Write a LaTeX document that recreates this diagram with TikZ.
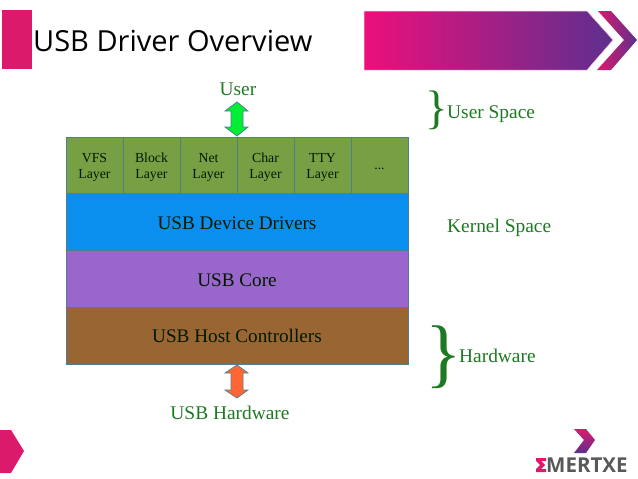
\documentclass[tikz,border=0pt]{standalone}
\usepackage{fontspec}
\setmainfont{Liberation Serif}
\newfontfamily\titlefont{Open Sans}
\definecolor{gtext}{HTML}{1E7A22}
\definecolor{bd}{HTML}{4F7F8F}
\definecolor{pinkA}{HTML}{EC0F7B}
\definecolor{pinkB}{HTML}{DC1A6C}
\definecolor{violet}{HTML}{5E2F8F}
\definecolor{cellgreen}{HTML}{77A045}
\definecolor{blueL}{HTML}{0A8FEF}
\definecolor{purpleL}{HTML}{9966CC}
\definecolor{brownL}{HTML}{996633}
\definecolor{orangeL}{HTML}{FF6633}
\definecolor{greenL}{HTML}{00EE33}
\tikzset{
  x=1pt,y=-1pt,
  layer/.style={draw=bd,line width=0.8pt,minimum height=57pt,inner sep=0pt,anchor=north west,align=center,text=black!90!green},
  cell/.style={layer,fill=cellgreen,minimum width=57pt,font=\fontsize{13.8}{16.5}\selectfont},
  wide/.style={layer,minimum width=342pt,font=\fontsize{19.2}{21}\selectfont},
  lab/.style={text=gtext,inner sep=0pt,font=\fontsize{19.4}{22}\selectfont},
  brace/.style={text=gtext,inner sep=0pt}
}
\begin{document}
\begin{tikzpicture}
\useasboundingbox (0,0) rectangle (638,479);
\fill[white] (0,0) rectangle (638,479);
% decorations
\fill[pinkB] (2,10) rectangle (32,69);
\node[anchor=west,inner sep=0pt,font=\titlefont\fontsize{29}{34}\selectfont] (title) at (33,41) {USB Driver Overview};
\shade[left color=pinkA,right color=violet,draw=pink!70!white,line width=0.5pt]
  (364,11) -- (587,11) -- (613,40) -- (587,70) -- (364,70) -- cycle;
\shade[left color=pinkB,right color=violet]
  (598,11) -- (611,11) -- (637,40) -- (611,70) -- (597,70) -- (624,40) -- cycle;
\fill[pinkB] (0,430) -- (11,430) -- (24,451) -- (11,473) -- (0,473) -- cycle;
% layers
\foreach \n/\t/\i in {vfs/VFS/0,block/Block/1,net/Net/2,char/Char/3,tty/TTY/4}{
  \node[cell] (\n) at (65.6+57*\i,136.6) {\rule{0pt}{12.5pt}\t\\Layer};
}
\node[cell] (more) at (350.6,136.6) {\rule{0pt}{9pt}...};
\node[wide,fill=blueL] (dd) at (65.6,193) {\rule{0pt}{15pt}USB Device Drivers};
\node[wide,fill=purpleL] (core) at (65.6,250) {\rule{0pt}{15pt}USB Core};
\node[wide,fill=brownL] (host) at (65.6,307) {USB Host Controllers};
% arrows
\draw[bd,fill=greenL,line width=0.8pt]
  (237,102) -- (248,111) -- (243,111) -- (243,127) -- (248,127) -- (237,136) -- (225,127) -- (231,127) -- (231,111) -- (225,111) -- cycle;
\draw[bd!60!gray,fill=orangeL,line width=0.8pt]
  (237,365) -- (248,373) -- (243,373) -- (243,390) -- (248,390) -- (237,398) -- (225,390) -- (231,390) -- (231,373) -- (225,373) -- cycle;
% labels
\node[lab] (user) at (238,89) {User};
\node[lab] (usbhw) at (230,413) {USB Hardware};
\node[lab,anchor=west] (us) at (447,114) {User Space};
\node[lab,anchor=west] (ks) at (447,228) {Kernel Space};
\node[lab,anchor=west] (hw) at (459,356) {Hardware};
\node[brace,font=\fontsize{47}{50}\selectfont] (b1) at (437,110) {\}};
\node[brace,font=\fontsize{76}{80}\selectfont] (b2) at (443.5,357) {\}};
% logo
\shade[top color=pinkB,bottom color=violet]
  (574,429) -- (586,429) -- (595,440) -- (586,453) -- (574,453) -- (584,440) -- cycle;
\fill[pinkB] (536,458) -- (546,458) -- (546,461) -- (541,461) -- (545,465) -- (541,469) -- (546,469) -- (546,472) -- (536,472) -- (536,469) -- (540,465) -- (536,461) -- cycle;
\node[anchor=west,inner sep=0pt,text=black!65,font=\titlefont\bfseries\fontsize{20.5}{22}\selectfont] (logo) at (546,465) {MERTXE};
\end{tikzpicture}
\end{document}
